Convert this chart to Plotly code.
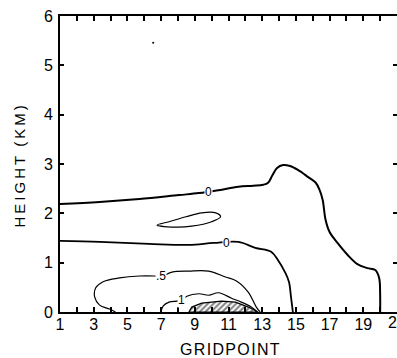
import plotly.graph_objects as go

# Contour lines (gridpoint, height km)
upper0_x = [1.0, 3.35, 5.71, 8.06, 9.24, 10.41, 11.59, 12.47, 13.06, 13.35, 13.59, 13.88, 14.24, 14.65, 15.12, 15.71, 16.18, 16.41, 16.59, 16.76, 17.0, 17.47, 18.06, 18.65, 19.24, 19.71, 19.94, 20.0, 20.0]
upper0_y = [2.19, 2.23, 2.29, 2.37, 2.41, 2.47, 2.54, 2.56, 2.58, 2.62, 2.76, 2.92, 2.98, 2.96, 2.88, 2.74, 2.62, 2.47, 2.27, 1.87, 1.62, 1.40, 1.16, 0.97, 0.89, 0.85, 0.69, 0.34, 0.0]

lower0_x = [1.0, 3.35, 6.29, 8.65, 10.12, 11.59, 12.59, 13.53, 13.94, 14.35, 14.59, 14.71, 14.82]
lower0_y = [1.44, 1.42, 1.38, 1.36, 1.40, 1.42, 1.30, 1.22, 1.05, 0.81, 0.61, 0.30, 0.0]

closed_x = [6.76, 7.47, 8.47, 9.41, 10.24, 10.53, 10.0, 8.82, 7.88, 6.76]
closed_y = [1.76, 1.83, 1.93, 2.01, 2.01, 1.93, 1.83, 1.74, 1.72, 1.76]

half_x = [4.29, 3.94, 3.35, 3.06, 3.12, 3.53, 4.53, 5.71, 6.59, 7.0, 7.65, 8.65, 9.82, 10.82, 11.47, 12.18, 12.65, 12.88]
half_y = [0.0, 0.06, 0.14, 0.30, 0.49, 0.61, 0.69, 0.73, 0.73, 0.72, 0.81, 0.83, 0.83, 0.71, 0.63, 0.40, 0.10, 0.0]

one_x = [7.0, 7.12, 7.47, 7.94, 8.24, 8.53, 9.24, 9.82, 10.41, 11.18, 11.76, 12.35, 12.71]
one_y = [0.0, 0.12, 0.20, 0.22, 0.24, 0.32, 0.37, 0.34, 0.39, 0.28, 0.20, 0.10, 0.0]

hatch_x = [8.65, 8.82, 9.41, 10.59, 11.41, 12.18, 12.75, 8.65]
hatch_y = [0.0, 0.10, 0.18, 0.22, 0.20, 0.10, 0.0, 0.0]

# contour labels
lab_text = ["0", "0", ".5", "1"]
lab_x = [9.82, 10.88, 7.0, 8.24]
lab_y = [2.43, 1.40, 0.72, 0.24]

speck_x = [6.53]
speck_y = [5.46]

x_ticks = list(range(1, 22))
x_ticktext = [str(v) if v % 2 == 1 else "" for v in x_ticks]
y_ticks = [0, 1, 2, 3, 4, 5, 6]

FONT = "Liberation Sans"
TS = "\u2009"
HS = "\u200a"

fig = go.Figure()
fig.add_trace(go.Scatter(x=hatch_x, y=hatch_y, mode="lines", fill="toself",
                         fillcolor="white", line=dict(color="black", width=1.2),
                         fillpattern=dict(shape="/", fgcolor="black", bgcolor="white", size=4, solidity=0.5)))
fig.add_trace(go.Scatter(x=upper0_x, y=upper0_y, mode="lines", line=dict(color="black", width=2, shape="spline")))
fig.add_trace(go.Scatter(x=lower0_x, y=lower0_y, mode="lines", line=dict(color="black", width=1.8, shape="spline")))
fig.add_trace(go.Scatter(x=closed_x, y=closed_y, mode="lines", line=dict(color="black", width=1.2, shape="spline")))
fig.add_trace(go.Scatter(x=half_x, y=half_y, mode="lines", line=dict(color="black", width=1.2, shape="spline")))
fig.add_trace(go.Scatter(x=one_x, y=one_y, mode="lines", line=dict(color="black", width=1.2, shape="spline")))
fig.add_trace(go.Scatter(x=speck_x, y=speck_y, mode="markers", marker=dict(color="black", size=2)))
fig.add_trace(go.Scatter(x=[1, 21], y=[0, 6], mode="markers", marker=dict(opacity=0), yaxis="y2", hoverinfo="skip"))

for t, x, y in zip(lab_text, lab_x, lab_y):
    fig.add_annotation(x=x, y=y, text=t, showarrow=False, bgcolor="white",
                       font=dict(family=FONT, size=12, color="black"), borderpad=0)

# cut-off last tick label at the right edge
fig.add_annotation(x=21, xref="x", y=0, yref="paper", yshift=-10, yanchor="middle", text="21",
                   showarrow=False, font=dict(family=FONT, size=16, color="black"))

fig.add_annotation(xref="paper", yref="paper", x=0.504, y=-0.125, yanchor="middle",
                   text=HS.join("GRIDPOINT"),
                   showarrow=False, font=dict(family=FONT, size=16, color="black"))
fig.add_annotation(xref="paper", yref="paper", x=-0.12, y=0.49, xanchor="center", yanchor="middle",
                   text=TS.join("HEIGHT") + TS * 3 + TS.join("(KM)"),
                   textangle=-90, showarrow=False, font=dict(family=FONT, size=15, color="black"))

fig.update_layout(
    width=397, height=358,
    margin=dict(l=60, r=0, t=16, b=46),
    paper_bgcolor="white", plot_bgcolor="white",
    showlegend=False,
    font=dict(family=FONT, size=16, color="black"),
    xaxis=dict(range=[1, 21], tickvals=x_ticks, ticktext=x_ticktext, ticks="inside", ticklen=5,
               tickwidth=1.5, tickcolor="black", showline=True, linecolor="black", linewidth=2,
               mirror="ticks", showgrid=False, zeroline=False, ticklabelstandoff=-3),
    yaxis=dict(range=[0, 6], tickvals=y_ticks, ticks="inside", ticklen=4, tickwidth=1.5,
               tickcolor="black", showline=True, linecolor="black", linewidth=2,
               showgrid=False, zeroline=False, ticklabelstandoff=2),
    yaxis2=dict(range=[0, 6], overlaying="y", side="right", tickvals=y_ticks, ticks="inside",
                ticklen=4, tickwidth=1.5, tickcolor="black", showticklabels=False,
                showline=False, showgrid=False, zeroline=False),
)

fig.write_html("out.html")
